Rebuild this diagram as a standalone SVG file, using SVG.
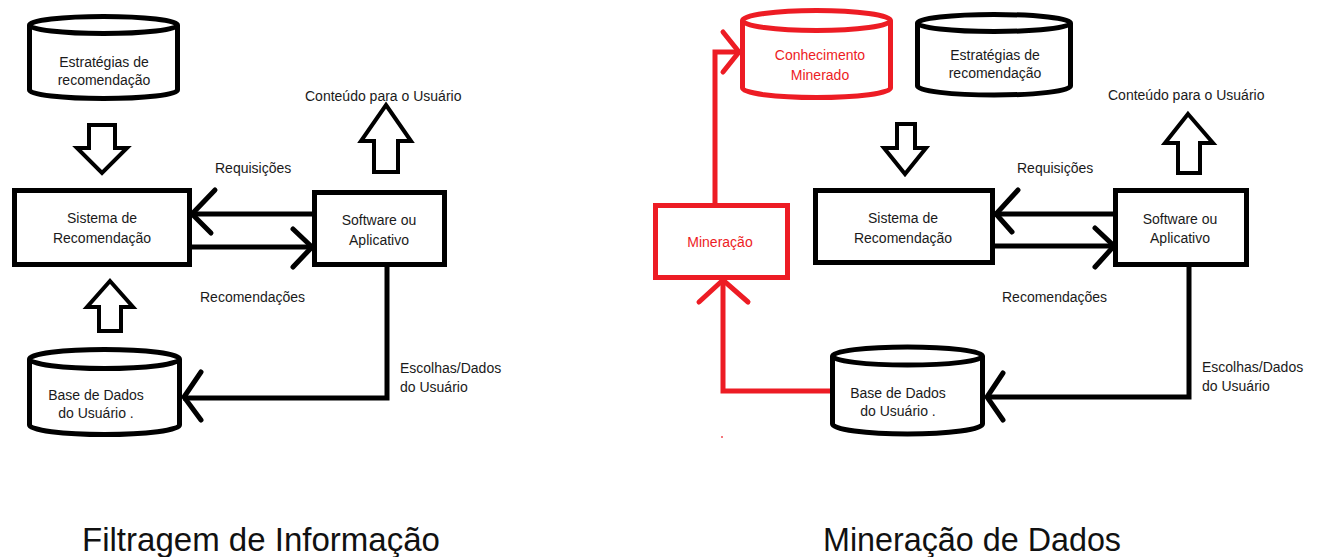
<svg xmlns="http://www.w3.org/2000/svg" width="1324" height="557" viewBox="0 0 1324 557">
<defs>
<style>
.shape{fill:#fff;stroke:#000;stroke-width:5;stroke-linejoin:miter}
.red{fill:#fff;stroke:#ed1c24;stroke-width:5}
.line{fill:none;stroke:#000;stroke-width:5;stroke-linecap:butt;stroke-linejoin:miter}
.rline{fill:none;stroke:#ed1c24;stroke-width:5;stroke-linejoin:miter}
.head{fill:none;stroke:#000;stroke-width:5;stroke-linecap:round;stroke-linejoin:miter}
.rhead{fill:none;stroke:#ed1c24;stroke-width:5;stroke-linecap:round;stroke-linejoin:miter}
.block{fill:#fff;stroke:#000;stroke-width:4;stroke-linejoin:miter}
.t{font-family:"Liberation Sans",Arial,sans-serif;font-size:14px;fill:#1a1a1a}
.c{text-anchor:middle}
.rt{fill:#ed1c24}
.title{font-family:"Liberation Sans",Arial,sans-serif;font-size:34px;fill:#111}
</style>
</defs>
<rect width="1324" height="557" fill="#fff"/>

<!-- LEFT DIAGRAM -->
<g id="estrategias-left">
<path class="shape" d="M29.5,25 L29.5,90 A74,8.5 0 0 0 177.5,90 L177.5,25"/>
<ellipse class="shape" cx="103.5" cy="25" rx="74" ry="8.5"/>
<text class="t c" x="104" y="67">Estratégias de</text>
<text class="t c" x="104" y="85">recomendação</text>
</g>

<g id="sistema-left">
<rect class="shape" x="14.5" y="190.5" width="175" height="74"/>
<text class="t c" x="102" y="223">Sistema de</text>
<text class="t c" x="102" y="243">Recomendação</text>
</g>

<g id="software-left">
<rect class="shape" x="314.5" y="192.5" width="130" height="72"/>
<text class="t c" x="379" y="225">Software ou</text>
<text class="t c" x="379" y="245">Aplicativo</text>
</g>

<g id="base-left">
<path class="shape" d="M29.5,359 L29.5,425 A75,9.5 0 0 0 179.5,425 L179.5,359"/>
<ellipse class="shape" cx="104.5" cy="359" rx="75" ry="9.5"/>
<text class="t c" x="96" y="400">Base de Dados</text>
<text class="t c" x="96" y="418">do Usuário .</text>
</g>

<g id="conteudo-left">
<text class="t" x="305" y="101">Conteúdo para o Usuário</text>
</g>

<!-- RIGHT DIAGRAM -->
<g id="conhecimento">
<path class="red" d="M742.5,20.5 L742.5,88 A74,9.5 0 0 0 890.5,88 L890.5,20.5"/>
<ellipse class="red" cx="816.5" cy="20.5" rx="74" ry="10"/>
<text class="t c rt" x="820" y="60">Conhecimento</text>
<text class="t c rt" x="820" y="80">Minerado</text>
</g>

<g id="estrategias-right">
<path class="shape" d="M917.5,23 L917.5,86 A76.5,9 0 0 0 1070.5,86 L1070.5,23"/>
<ellipse class="shape" cx="994" cy="23" rx="76.5" ry="8.5"/>
<text class="t c" x="995" y="60">Estratégias de</text>
<text class="t c" x="995" y="78">recomendação</text>
</g>

<g id="mineracao">
<rect class="red" x="655.5" y="205.5" width="132" height="72"/>
<text class="t c rt" x="720" y="247">Mineração</text>
</g>

<g id="sistema-right">
<rect class="shape" x="815.5" y="190.5" width="177" height="72"/>
<text class="t c" x="903" y="223">Sistema de</text>
<text class="t c" x="903" y="243">Recomendação</text>
</g>

<g id="software-right">
<rect class="shape" x="1115.5" y="190.5" width="131" height="74"/>
<text class="t c" x="1180" y="224">Software ou</text>
<text class="t c" x="1180" y="243">Aplicativo</text>
</g>

<g id="base-right">
<path class="shape" d="M832.5,356 L832.5,424 A75,10 0 0 0 982.5,424 L982.5,356"/>
<ellipse class="shape" cx="907.5" cy="356" rx="75" ry="9"/>
<text class="t c" x="898" y="398">Base de Dados</text>
<text class="t c" x="898" y="416">do Usuário .</text>
</g>

<g id="conteudo-right">
<text class="t" x="1108" y="100">Conteúdo para o Usuário</text>
</g>

<!-- CONNECTORS -->
<g id="connectors">
<polygon class="block" points="89,125 115,125 115,148 127,148 102,173 77,148 89,148"/>
<polygon class="block" points="110,281 133,307 121,307 121,331 99,331 99,307 87,307"/>
<polygon class="block" points="386,105 411,141 398,141 398,172 374,172 374,141 361,141"/>
<line class="line" x1="314" y1="214" x2="191" y2="214"/>
<polyline class="head" points="215,190 192,214 211,233"/>
<line class="line" x1="190" y1="247" x2="312" y2="247"/>
<polyline class="head" points="293,229 312,247 293,267"/>
<polyline class="line" points="387,265 387,398 183,398"/>
<polyline class="head" points="201,372 184,397 201,420"/>

<polygon class="block" points="897,124 915,124 915,148 926,148 905,174 884,148 897,148"/>
<polygon class="block" points="1188,114 1213,143 1200,143 1200,173 1178,173 1178,143 1165,143"/>
<line class="line" x1="1115" y1="214" x2="995" y2="214"/>
<polyline class="head" points="1018,190 996,214 1012,232"/>
<line class="line" x1="993" y1="246" x2="1114" y2="246"/>
<polyline class="head" points="1095,228 1114,246 1095,267"/>
<polyline class="line" points="1189,266 1189,397 986,397"/>
<polyline class="head" points="1003,373 987,397 1003,420"/>

<polyline class="rline" points="830,391 723,391 723,280"/>
<polyline class="rhead" points="699,302 723,280 748,302"/>
<polyline class="rline" points="715,205 715,52 739,52"/>
<polyline class="rhead" points="723,32 739,52 723,72"/>
<rect x="721" y="436" width="2" height="2" fill="#ed1c24" opacity="0.6"/>
</g>

<g id="labels">
<text class="t" x="215" y="173">Requisições</text>
<text class="t" x="200" y="302">Recomendações</text>
<text class="t" x="400" y="373">Escolhas/Dados</text>
<text class="t" x="400" y="392">do Usuário</text>
<text class="t" x="1017" y="173">Requisições</text>
<text class="t" x="1002" y="302">Recomendações</text>
<text class="t" x="1202" y="372">Escolhas/Dados</text>
<text class="t" x="1202" y="391">do Usuário</text>
</g>

<g id="titles">
<text class="title" x="82" y="551" textLength="358" lengthAdjust="spacingAndGlyphs">Filtragem de Informação</text>
<text class="title" x="823" y="551" textLength="298" lengthAdjust="spacingAndGlyphs">Mineração de Dados</text>
</g>
</svg>
